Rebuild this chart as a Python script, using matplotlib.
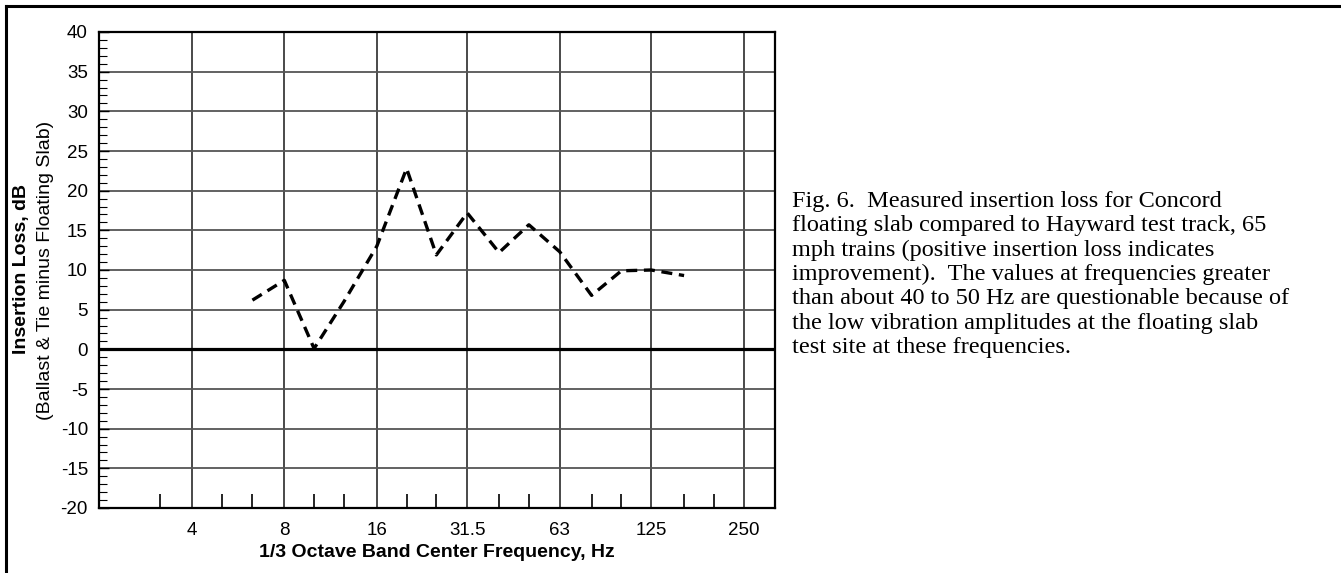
import matplotlib.pyplot as plt
from matplotlib.lines import Line2D
import numpy as np

# 1/3 octave band data (insertion loss, dB)
freqs = [6.3, 8, 10, 12.5, 16, 20, 25, 31.5, 40, 50, 63, 80, 100, 125, 160]
insertion_loss = [6.2, 8.7, 0.1, 6.0, 13.0, 22.8, 11.9, 17.2, 12.2, 15.7, 12.3, 6.8, 9.9, 10.0, 9.3]

octave_ticks = [4, 8, 16, 31.5, 63, 125, 250]
octave_labels = ['4', '8', '16', '31.5', '63', '125', '250']
third_ticks = [3.15, 5, 6.3, 10, 12.5, 20, 25, 40, 50, 80, 100, 160, 200]

caption_lines = ["Fig. 6.  Measured insertion loss for Concord",
                 "floating slab compared to Hayward test track, 65",
                 "mph trains (positive insertion loss indicates",
                 "improvement).  The values at frequencies greater",
                 "than about 40 to 50 Hz are questionable because of",
                 "the low vibration amplitudes at the floating slab",
                 "test site at these frequencies."]

plt.rcParams['font.family'] = ['Liberation Sans', 'DejaVu Sans']
plt.rcParams['axes.unicode_minus'] = False

W, H = 1341, 573
fig = plt.figure(figsize=(W / 100, H / 100), dpi=100)
ax = fig.add_axes([99 / W, (H - 508) / H, (775 - 99) / W, (508 - 32) / H])

ax.set_xscale('log')
ax.set_xlim(10 ** 0.3, 10 ** 2.5)
ax.set_ylim(-20, 40)

# grid
for f in octave_ticks:
    ax.axvline(f, color='#2a2a2a', lw=1.2, zorder=1)
for y in range(-20, 41, 5):
    if y != 0:
        ax.axhline(y, color='#555555', lw=1.3, zorder=1)
ax.axhline(0, color='black', lw=2.3, zorder=2)

ax.plot(freqs, insertion_loss, color='black', lw=2.4, dashes=(3.3, 2.0), zorder=3)

ax.set_xticks(octave_ticks)
ax.set_xticklabels(octave_labels)
ax.set_xticks(third_ticks, minor=True)
ax.set_xticklabels([], minor=True)
ax.tick_params(axis='x', which='major', length=0, pad=10, labelsize=13.5)
ax.tick_params(axis='x', which='minor', direction='in', length=10, width=1.2)

ax.set_yticks(range(-20, 41, 5))
ax.set_yticks(range(-20, 41, 1), minor=True)
ax.tick_params(axis='y', which='major', direction='in', length=7, width=1.0, pad=8, labelsize=13.5)
ax.tick_params(axis='y', which='minor', direction='in', length=6, width=0.8)

for s in ax.spines.values():
    s.set_linewidth(1.6)
    s.set_color('black')

ax.set_xlabel('1/3 Octave Band Center Frequency, Hz', fontsize=14, fontweight='bold', labelpad=4)

# two-line y label: bold first line, regular second line
fig.text(22 / W, 1 - 269 / H, 'Insertion Loss, dB', rotation=90, fontsize=14,
         fontweight='bold', ha='center', va='center')
fig.text(46 / W, 1 - 270 / H, '(Ballast & Tie minus Floating Slab)', rotation=90,
         fontsize=14, ha='center', va='center')

# caption, one text per line
for i, line in enumerate(caption_lines):
    fig.text(792 / W, 1 - (207 + 24.3 * i) / H, line, fontsize=17.5,
             family='Liberation Serif', ha='left', va='baseline')

# page / table border
fig.add_artist(Line2D([6 / W, 1], [1 - 6 / H, 1 - 6 / H], color='black', lw=2.2))
fig.add_artist(Line2D([6 / W, 6 / W], [0, 1 - 6 / H], color='black', lw=2.2))

fig.savefig('out.png', dpi=100)
